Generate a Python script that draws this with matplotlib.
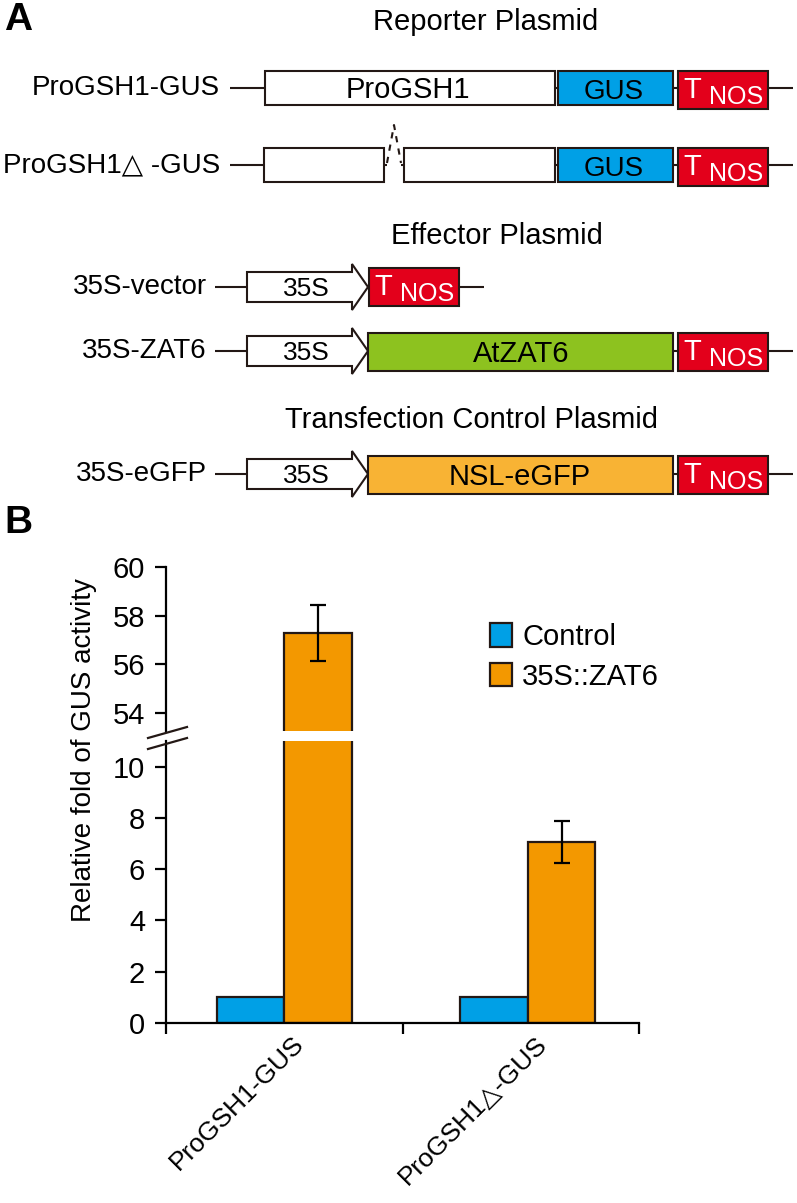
import numpy as np
import matplotlib.pyplot as plt
from matplotlib.patches import Rectangle, Polygon

plt.rcParams['font.family'] = ['Liberation Sans', 'DejaVu Sans']

# bar chart data (panel B)
groups = ['ProGSH1-GUS', 'ProGSH1\u25b3-GUS']
control = [1.0, 1.0]
zat6 = [57.3, 7.07]
zat6_err = [1.15, 0.82]
series_names = ['Control', '35S::ZAT6']
low_ticks = [0, 2, 4, 6, 8, 10]
high_ticks = [54, 56, 58, 60]

BLUE = '#00A0E6'
ORANGE = '#F39800'
RED = '#E3001B'
GREEN = '#8DC21F'
YELLOW = '#F8B334'
EDGE = '#231815'

W, H = 797, 1203
fig = plt.figure(figsize=(W / 100, H / 100), dpi=100)

def frac(x0, y0, x1, y1):
    # pixel box (top-left origin) -> figure fraction rect
    return [x0 / W, 1 - y1 / H, (x1 - x0) / W, (y1 - y0) / H]

# ---------------- panel B: broken-axis bar chart ----------------
axl = fig.add_axes(frac(166, 741, 639, 1023))
axh = fig.add_axes(frac(166, 567, 639, 731))

x = np.array([0.0, 1.03])
w = 0.286
for ax in (axl, axh):
    ax.bar(x - w / 2, control, w, color=BLUE, edgecolor=EDGE, linewidth=1.6, label=series_names[0])
    ax.bar(x + w / 2, zat6, w, color=ORANGE, edgecolor=EDGE, linewidth=1.6, label=series_names[1])
    ax.set_xlim(-0.5, 1.5)
    ax.spines['top'].set_visible(False)
    ax.spines['right'].set_visible(False)
    ax.spines['left'].set_linewidth(1.6)
    ax.spines['bottom'].set_linewidth(1.6)
    ax.tick_params(axis='y', direction='out', length=8, width=1.6, pad=7, labelsize=21)
    ax.set_facecolor('none')

# error bars: big one in the upper part, small one in the lower part
axh.errorbar(x[0] + w / 2, zat6[0], yerr=zat6_err[0], fmt='none', ecolor='black',
             elinewidth=1.6, capsize=6, capthick=1.6)
axl.errorbar(x[1] + w / 2, zat6[1], yerr=zat6_err[1], fmt='none', ecolor='black',
             elinewidth=1.6, capsize=6, capthick=1.6)

axl.set_ylim(0, 11.0)
axl.set_yticks(low_ticks)
axl.set_xticks([-0.5, 0.5, 1.5])
axl.set_xticklabels([])
axl.tick_params(axis='x', which='major', direction='out', length=8, width=1.6)
axl.set_xticks(x + 0.03, minor=True)
axl.set_xticklabels(groups, minor=True, rotation=45, ha='right', va='top',
                    rotation_mode='anchor', fontsize=19)
axl.tick_params(axis='x', which='minor', length=0, pad=6)

axh.set_ylim(53.25, 60)
axh.set_yticks(high_ticks)
axh.spines['bottom'].set_visible(False)
axh.set_xticks([])

axh.legend(loc='upper left', bbox_to_anchor=(490 / W, 1 - 623 / H), bbox_transform=fig.transFigure,
           frameon=False, fontsize=21, handlelength=0.75, handleheight=0.85,
           handletextpad=0.35, labelspacing=0.4, borderpad=0, borderaxespad=0)

fig.text(84 / W, 1 - 750 / H, 'Relative fold of GUS activity', rotation=90,
         ha='center', va='center', fontsize=20)

# ---------------- panel A: plasmid schematic (pixel coordinates) ----------------
ax0 = fig.add_axes([0, 0, 1, 1], zorder=10)
ax0.set_xlim(0, W)
ax0.set_ylim(H, 0)
ax0.axis('off')

def box(x0, x1, y0, y1, color):
    ax0.add_patch(Rectangle((x0, y0), x1 - x0, y1 - y0, facecolor=color,
                            edgecolor=EDGE, linewidth=1.5))

def line(x0, x1, y):
    ax0.plot([x0, x1], [y, y], color=EDGE, lw=1.5, solid_capstyle='butt')

def tnos(x0, y0, y1):
    box(x0, x0 + 90, y0, y1, RED)
    ax0.text(x0 + 5, y0 + 27, 'T', color='white', fontsize=21, va='baseline')
    ax0.text(x0 + 31, y0 + 33, 'NOS', color='white', fontsize=18, va='baseline')

def promoter(y):
    pts = [(247, y - 15), (352, y - 15), (352, y - 23), (368, y),
           (352, y + 23), (352, y + 15), (247, y + 15)]
    ax0.add_patch(Polygon(pts, closed=True, facecolor='white', edgecolor=EDGE, linewidth=1.5))
    ax0.text(306, y + 2, '35S', fontsize=19, ha='center', va='center')

def label(txt, xr, y):
    ax0.text(xr, y, txt, fontsize=20, ha='right', va='center')

ax0.text(4, 20, 'A', fontsize=28, fontweight='bold', va='center')
ax0.text(4, 523, 'B', fontsize=28, fontweight='bold', va='center')

ax0.text(486, 22, 'Reporter Plasmid', fontsize=21, ha='center', va='center')
ax0.text(497, 236, 'Effector Plasmid', fontsize=21, ha='center', va='center')
ax0.text(472, 420, 'Transfection Control Plasmid', fontsize=21, ha='center', va='center')

# row 1: ProGSH1-GUS
y = 88
label('ProGSH1-GUS', 220, y)
line(230, 265, y)
box(265, 555, 71, 105, 'white')
ax0.text(408, y + 2, 'ProGSH1', fontsize=21, ha='center', va='center')
line(555, 558, y)
box(558, 673, 71, 105, BLUE)
ax0.text(614, y + 4, 'GUS', fontsize=20, ha='center', va='center')
line(673, 678, y)
tnos(678, 71, 109)
line(768, 793, y)

# row 2: ProGSH1 deletion
y = 165
label('ProGSH1\u25b3 -GUS', 220, y)
line(230, 264, y)
box(264, 384, 148, 182, 'white')
line(384, 387, y)
ax0.plot([387, 394, 401], [y - 2, 125, y - 2], color=EDGE, lw=1.5, ls=(0, (3, 3)))
line(401, 404, y)
box(404, 555, 148, 182, 'white')
line(555, 558, y)
box(558, 673, 148, 182, BLUE)
ax0.text(614, y + 4, 'GUS', fontsize=20, ha='center', va='center')
line(673, 678, y)
tnos(678, 148, 186)
line(768, 793, y)

# row 3: 35S-vector
y = 287
label('35S-vector', 207, y)
line(215, 247, y)
promoter(y)
tnos(369, 268, 306)
line(459, 484, y)

# row 4: 35S-ZAT6
y = 351
label('35S-ZAT6', 207, y)
line(215, 247, y)
promoter(y)
box(368, 673, 333, 371, GREEN)
ax0.text(521, y + 3, 'AtZAT6', fontsize=21, ha='center', va='center')
line(673, 678, y)
tnos(678, 333, 371)
line(768, 793, y)

# row 5: 35S-eGFP
y = 474
label('35S-eGFP', 207, y)
line(215, 247, y)
promoter(y)
box(368, 673, 456, 494, YELLOW)
ax0.text(520, y + 3, 'NSL-eGFP', fontsize=21, ha='center', va='center')
line(673, 678, y)
tnos(678, 456, 494)
line(768, 793, y)

# axis break marks
ax0.plot([148, 187], [738, 727], color=EDGE, lw=1.6)
ax0.plot([148, 187], [749, 738], color=EDGE, lw=1.6)

fig.savefig('out.png', dpi=100)
